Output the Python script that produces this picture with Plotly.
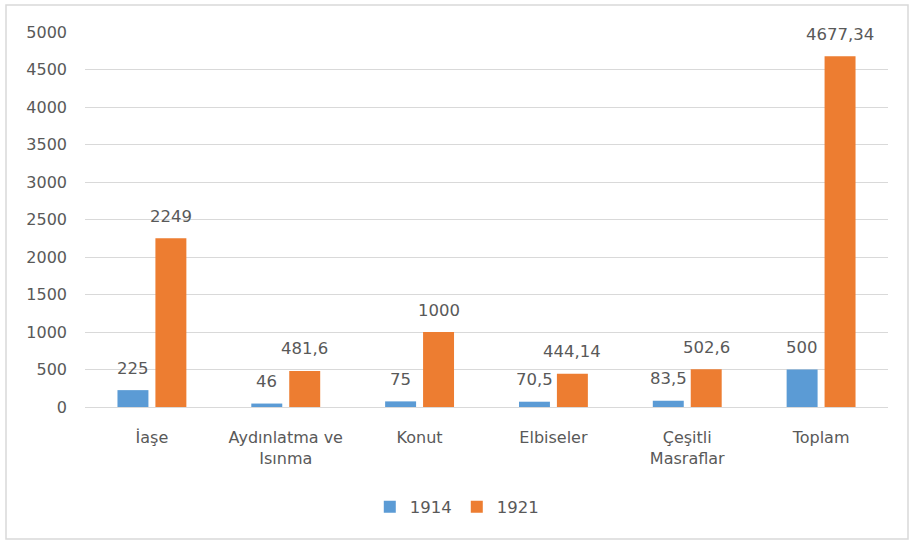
import plotly.graph_objects as go

categories = ["İaşe", "Aydınlatma ve<br>Isınma", "Konut", "Elbiseler", "Çeşitli<br>Masraflar", "Toplam"]
series_names = ["1914", "1921"]
values_1914 = [225, 46, 75, 70.5, 83.5, 500]
values_1921 = [2249, 481.6, 1000, 444.14, 502.6, 4677.34]
y_ticks = [0, 500, 1000, 1500, 2000, 2500, 3000, 3500, 4000, 4500, 5000]

colors = ["#5B9BD5", "#ED7D31"]
text_color = "#595959"
font_family = "DejaVu Sans"


def fmt(v):
    return f"{v:g}".replace(".", ",")


fig = go.Figure()
for name, vals, col in zip(series_names, [values_1914, values_1921], colors):
    fig.add_trace(go.Bar(name=name, x=categories, y=vals, marker_color=col,
                         marker_line_width=0))

annotations = []
for vals, shift in [(values_1914, -19), (values_1921, 19)]:
    for c, v in zip(categories, vals):
        annotations.append(dict(x=c, y=v, xref="x", yref="y", text=fmt(v),
                                showarrow=False, xshift=shift, yshift=22,
                                yanchor="middle",
                                font=dict(family=font_family, size=16.5, color=text_color)))

fig.update_layout(
    width=910, height=541,
    margin=dict(l=85, r=22, t=32, b=134),
    paper_bgcolor="white", plot_bgcolor="white",
    barmode="group", bargap=0.433, bargroupgap=0.184,
    font=dict(family=font_family, size=16, color=text_color),
    showlegend=True,
    legend=dict(orientation="h", x=0.463, y=-0.267, xanchor="center", yanchor="middle",
                font=dict(family=font_family, size=16.5, color=text_color),
                itemwidth=30, tracegroupgap=0),
    annotations=annotations,
    shapes=[dict(type="rect", xref="paper", yref="paper",
                 x0=(6 - 85) / 803, x1=(908 - 85) / 803,
                 y0=(407 - 539) / 375, y1=(407 - 5) / 375,
                 line=dict(color="#D9D9D9", width=1.5), fillcolor="rgba(0,0,0,0)",
                 layer="below")],
)
fig.update_xaxes(showline=True, linecolor="#D9D9D9", linewidth=1, ticks="",
                 ticklabelstandoff=16,
                 tickfont=dict(family=font_family, size=16, color=text_color),
                 showgrid=False)
fig.update_yaxes(range=[0, 5000], tickvals=y_ticks, showgrid=True, gridcolor="#D9D9D9",
                 gridwidth=1, zeroline=False, showline=False, ticks="",
                 ticklabelstandoff=17,
                 tickfont=dict(family=font_family, size=16, color=text_color))

fig.write_html("out.html", config={"displayModeBar": False},
               post_script="document.body.style.margin='0';")
